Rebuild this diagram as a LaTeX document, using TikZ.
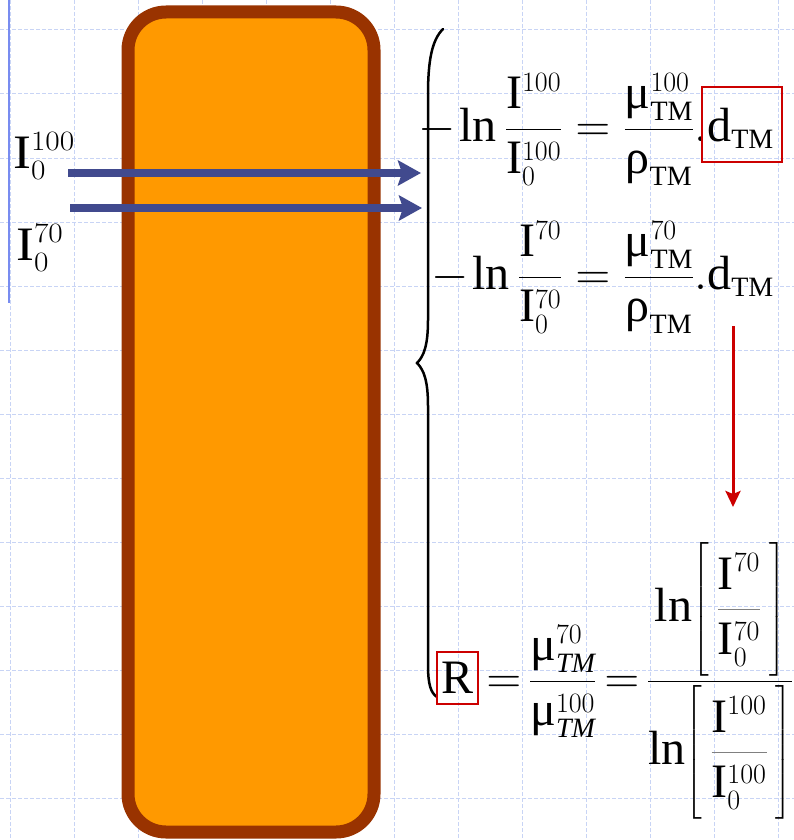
\RequirePackage{fix-cm}
\documentclass[tikz,border=0pt]{standalone}
\usepackage{amsmath}
\usepackage{fontspec}
\setmainfont{Liberation Serif}
\usetikzlibrary{arrows.meta,positioning}
\DeclareMathSizes{48}{48}{28}{20}
\definecolor{slabfill}{RGB}{255,153,0}
\definecolor{slabedge}{RGB}{153,51,0}
\definecolor{beamblue}{RGB}{65,74,142}
\definecolor{gridblue}{RGB}{200,212,245}
\definecolor{markred}{RGB}{204,0,0}
\definecolor{sideblue}{RGB}{120,140,240}
\newcommand{\gmu}{\text{μ}}
\newcommand{\grho}{\text{ρ}}
\newcommand{\Irm}{\mathrm{I}}
\newcommand{\tallbr}{\rule[-56pt]{0pt}{136pt}}
\newcommand{\tighteq}{\mkern-2mu=\mkern-2mu}
\tikzset{
    eq/.style={inner sep=0pt,font=\fontsize{48}{58}\selectfont},
    slab/.style={draw=slabedge,fill=slabfill,line width=13pt,rounded corners=38pt,minimum width=246pt,minimum height=820pt},
    beam/.style={-{Stealth[length=23pt,width=25pt,inset=4pt]},draw=beamblue,line width=8pt},
    down/.style={-{Stealth[length=16pt,width=15pt,inset=3pt]},draw=markred,line width=3pt},
    redbox/.style={draw=markred,line width=1.5pt,inner sep=0pt,minimum width=80pt,minimum height=75pt},
    gridline/.style={draw=gridblue,line width=1pt,dash pattern=on 4pt off 2pt},
    brace/.style={line width=2.5pt,line cap=round},
}
\begin{document}
\begin{tikzpicture}[x=1pt,y=-1pt]
                \useasboundingbox (0,0) rectangle (794,840);
                \fill[white] (0,0) rectangle (794,840);
                \foreach \gx in {10,74,...,778} \draw[gridline] (\gx,0) -- (\gx,840);
                \foreach \gy in {30,94,...,798} \draw[gridline] (0,\gy) -- (794,\gy);
                \draw[sideblue,line width=2pt] (9,0) -- (9,303);
                \node[slab] (slab) at (251,422) {};
                \node[eq,anchor=base west,xscale=1.12,transform shape] (i100) at (13,168) {$\Irm_0^{100}$};
                \node[eq,anchor=base west,xscale=1.12,transform shape] (i70) at (16,260) {$\Irm_0^{70}$};
                \coordinate (b100s) at (68,173);
                \coordinate (b100e) at (421,173);
                \coordinate (b70s) at (70,208);
                \coordinate (b70e) at (422,208);
                \draw[beam] (b100s) -- (b100e);
                \draw[beam] (b70s) -- (b70e);
                \draw[brace] (443,29) .. controls (432,40) and (428,60) .. (428,95) -- (428,320) .. controls (428,345) and (424,356) .. (417,363) .. controls (424,370) and (428,381) .. (428,406) -- (428,665) .. controls (428,685) and (431,693) .. (437,697);
                \node[eq,anchor=base east] (eqA) at (774,141) {$-\mkern-1.5mu\ln\dfrac{\Irm^{100}}{\Irm_0^{100}}=\dfrac{\gmu_{\mathrm{TM}}^{100}}{\grho_{\mathrm{TM}}}.\mathrm{d}_{\mathrm{TM}}$};
                \node[eq,anchor=base east] (eqB) at (774,289) {$-\mkern-1.5mu\ln\dfrac{\Irm^{70}}{\Irm_0^{70}}=\dfrac{\gmu_{\mathrm{TM}}^{70}}{\grho_{\mathrm{TM}}}.\mathrm{d}_{\mathrm{TM}}$};
                \node[redbox] (dbox) at (742,124.5) {};
                \coordinate (ds) at (733,326);
                \coordinate (de) at (733,507);
                \draw[down] (ds) -- (de);
                \node[eq,anchor=base west] (eqR) at (441,693) {$\mathrm{R}\mkern2mu\tighteq\dfrac{\gmu^{70}_{\mathit{TM}}}{\gmu^{100}_{\mathit{TM}}}\tighteq\dfrac{\ln\!\left[\tallbr\,{\color{gray}\dfrac{\color{black}\Irm^{70}}{\color{black}\Irm_0^{70}}}\,\right]}{\ln\!\left[\tallbr\,{\color{gray}\dfrac{\color{black}\Irm^{100}}{\color{black}\Irm_0^{100}}}\,\right]}$};
                \node[redbox,minimum width=41pt,minimum height=52pt] (rbox) at (457.5,678) {};
%                \draw[down] (eqB) -- (eqR);
\end{tikzpicture}
\end{document}
